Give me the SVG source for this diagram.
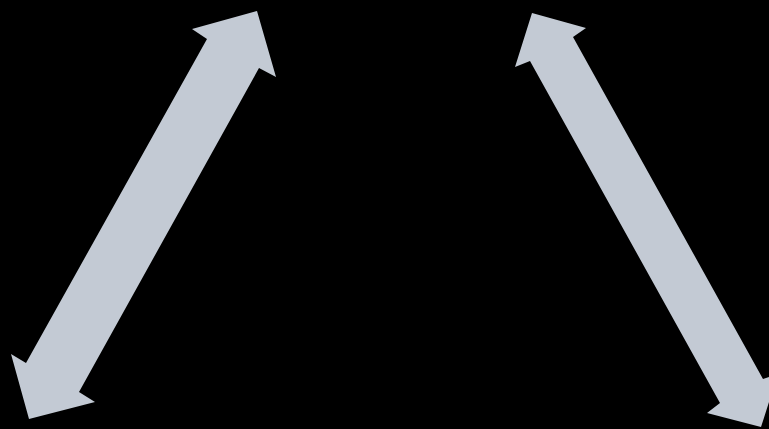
<svg xmlns="http://www.w3.org/2000/svg" width="769" height="429" viewBox="0 0 769 429">
<style>.arrow{fill:#C3CAD4;stroke:none}</style>
<rect width="769" height="429" fill="#000"/>
<g id="connectors">
<polygon id="arrow-left" class="arrow" points="257,11 276,77 259,68 79,392 95,402 29,419 11,354 26,363 207,39 192,29"/>
<polygon id="arrow-right" class="arrow" points="532,13 586,28 573,37 763,379 778,374 761,427 707,413 720,403 530,61 515,67"/>
</g>
</svg>
